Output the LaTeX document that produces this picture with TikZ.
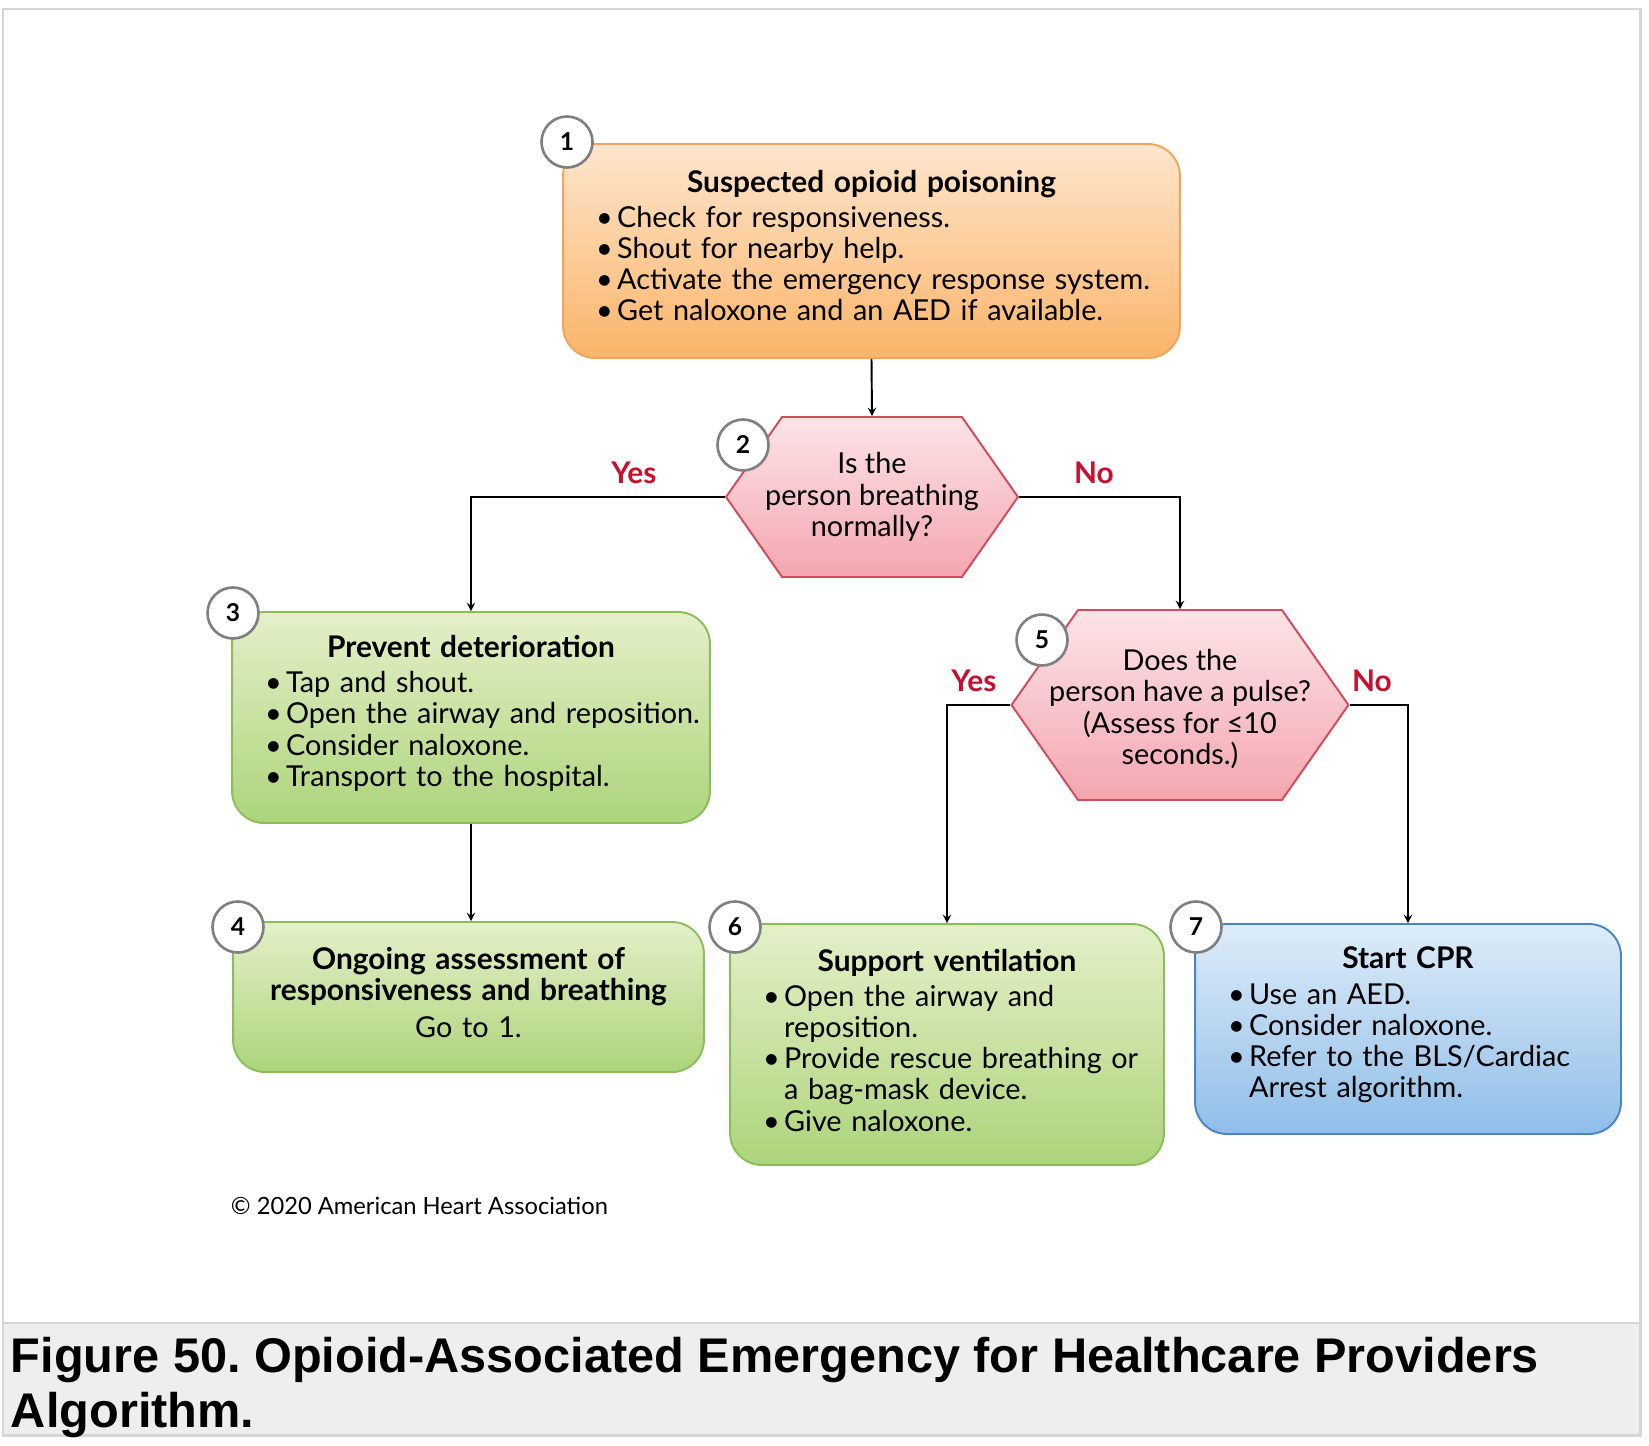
\documentclass[tikz,border=0pt]{standalone}
\usepackage{fontspec}
\setmainfont{Lato}
\newfontfamily\capfont{Liberation Sans}
\usetikzlibrary{shapes.symbols}

\definecolor{orangetop}{HTML}{FDE6CD}
\definecolor{orangebot}{HTML}{FBB469}
\definecolor{orangeline}{HTML}{F0A55A}
\definecolor{pinktop}{HTML}{FCE4E7}
\definecolor{pinkbot}{HTML}{F4A6B0}
\definecolor{pinkline}{HTML}{D34A5C}
\definecolor{greentop}{HTML}{E4F0C9}
\definecolor{greenbot}{HTML}{ADD47B}
\definecolor{greenline}{HTML}{8CBD5C}
\definecolor{bluetop}{HTML}{DEECF8}
\definecolor{bluebot}{HTML}{8FBEE9}
\definecolor{blueline}{HTML}{4B86C4}
\definecolor{ahared}{HTML}{C8102E}
\definecolor{framegray}{HTML}{D6D6D6}
\definecolor{bandgray}{HTML}{EEEEEE}

\newcommand{\bodyfont}{\fontsize{16.4}{17.7}\selectfont}
\newcommand{\bul}[1]{\par\noindent\makebox[12pt][l]{\textbullet}\mbox{#1}}
\newcommand{\cont}[1]{\par\noindent\hspace*{12pt}\mbox{#1}}
\newcommand{\ttl}[1]{{\centering\bfseries\fontsize{17}{17.7}\selectfont #1\par}\vspace{2.3pt}}
\newcommand{\lift}[1]{\par\nointerlineskip\vskip#1\hbox{}}

\begin{document}
\begin{tikzpicture}[x=0.02cm, y=-0.02cm, >=stealth, line width=1.1pt]
\tikzset{
  box/.style={rectangle, rounded corners=0.64cm, inner xsep=0.66cm, inner ysep=0pt, font=\bodyfont},
  obox/.style={box, draw=orangeline, top color=orangetop, bottom color=orangebot},
  gbox/.style={box, draw=greenline, top color=greentop, bottom color=greenbot},
  bbox/.style={box, draw=blueline, top color=bluetop, bottom color=bluebot},
  hexq/.style={signal, signal to=east and west, signal pointer angle=110, draw=pinkline,
    top color=pinktop, bottom color=pinkbot, inner sep=0pt},
  qtext/.style={align=center, inner sep=0pt, font=\fontsize{16.4}{17.9}\selectfont},
  num/.style={circle, draw=black!50, line width=1.5pt, fill=white, minimum size=1.02cm,
    inner sep=0pt, font=\bfseries\fontsize{14}{14}\selectfont},
  lbl/.style={text=ahared, font=\bfseries\fontsize{17}{17}\selectfont, inner sep=0pt},
}
\useasboundingbox (0,0) rectangle (1649,1446);
% frame and caption band
\fill[white] (0,0) rectangle (1649,1446);
\fill[bandgray] (3,1323) rectangle (1640,1435);
\draw[framegray, line width=1.7pt] (3,9) rectangle (1640,1435);
\draw[framegray, line width=1.5pt] (3,1323) -- (1640,1323);

% boxes
\node[obox, minimum width=12.34cm, minimum height=4.28cm, text width=11.02cm] (b1) at (871.5,251) {%
  \ttl{Suspected opioid poisoning}
  \bul{Check for responsiveness.}
  \bul{Shout for nearby help.}
  \bul{Activate the emergency response system.}
  \bul{Get naloxone and an AED if available.}\lift{6.2pt}};
\node[hexq, minimum width=5.84cm, minimum height=3.2cm,
  label={[qtext, name=q2text]center:Is the\\person breathing\\normally?}] (q2) at (872,497) {};
\node[gbox, minimum width=9.56cm, minimum height=4.22cm, text width=8.24cm] (b3) at (471,717.5) {%
  \ttl{Prevent deterioration}
  \bul{Tap and shout.}
  \bul{Open the airway and reposition.}
  \bul{Consider naloxone.}
  \bul{Transport to the hospital.}\lift{4.8pt}};
\node[gbox, minimum width=9.42cm, minimum height=3.0cm, text width=8.10cm, align=center] (b4) at (468.5,997) {%
  {\bfseries\fontsize{17}{17.7}\selectfont Ongoing assessment of\\responsiveness and breathing\par}\vspace{3.5pt}
  Go to 1.\lift{4.8pt}};
\node[hexq, minimum width=6.74cm, minimum height=3.8cm,
  label={[qtext, name=q5text, yshift=-0.08cm]center:Does the\\person have a pulse?\\(Assess for ≤10\\seconds.)}] (q5) at (1180,705) {};
\node[gbox, minimum width=8.68cm, minimum height=4.82cm, text width=7.36cm] (b6) at (947,1044.5) {%
  \ttl{Support ventilation}
  \bul{Open the airway and}
  \cont{reposition.}
  \bul{Provide rescue breathing or}
  \cont{a bag-mask device.}
  \bul{Give naloxone.}\lift{4.8pt}};
\node[bbox, minimum width=8.52cm, minimum height=4.2cm, text width=7.2cm] (b7) at (1408,1029) {%
  \ttl{Start CPR}
  \bul{Use an AED.}
  \bul{Consider naloxone.}
  \bul{Refer to the BLS/Cardiac}
  \cont{Arrest algorithm.}\lift{4.8pt}};

% step numbers
\node[num] (n1) at (567,142) {1};
\node[num] (n2) at (743,445) {2};
\node[num] (n3) at (233,613) {3};
\node[num] (n4) at (238,927) {4};
\node[num] (n5) at (1042,640) {5};
\node[num] (n6) at (735,927) {6};
\node[num] (n7) at (1196,927) {7};

% branch labels
\node[lbl] (yes2) at (634,473) {Yes};
\node[lbl] (no2) at (1094,473) {No};
\node[lbl] (yes5) at (974,681) {Yes};
\node[lbl] (no5) at (1372,681) {No};

% connectors
\draw[->] (b1.south) -- (q2.north);
\draw[->] (q2.west) -| (b3.north);
\draw[->] (q2.east) -| (q5.north);
\draw[->] (b3.south) -- (b3.south |- b4.north);
\draw[->] (q5.west) -| (b6.north);
\draw[->] (q5.east) -| (b7.north);

% credit and caption
\node[anchor=base west, inner sep=0pt, font=\fontsize{13.5}{13.5}\selectfont] (credit) at (230,1214)
  {\textcopyright{} 2020 American Heart Association};
\node[anchor=base west, inner sep=0pt, align=left, font=\capfont\bfseries\fontsize{27.7}{31.2}\selectfont] (cap) at (10,1427)
  {Figure 50.\ Opioid-Associated Emergency for Healthcare Providers\\Algorithm.};
\end{tikzpicture}
\end{document}
